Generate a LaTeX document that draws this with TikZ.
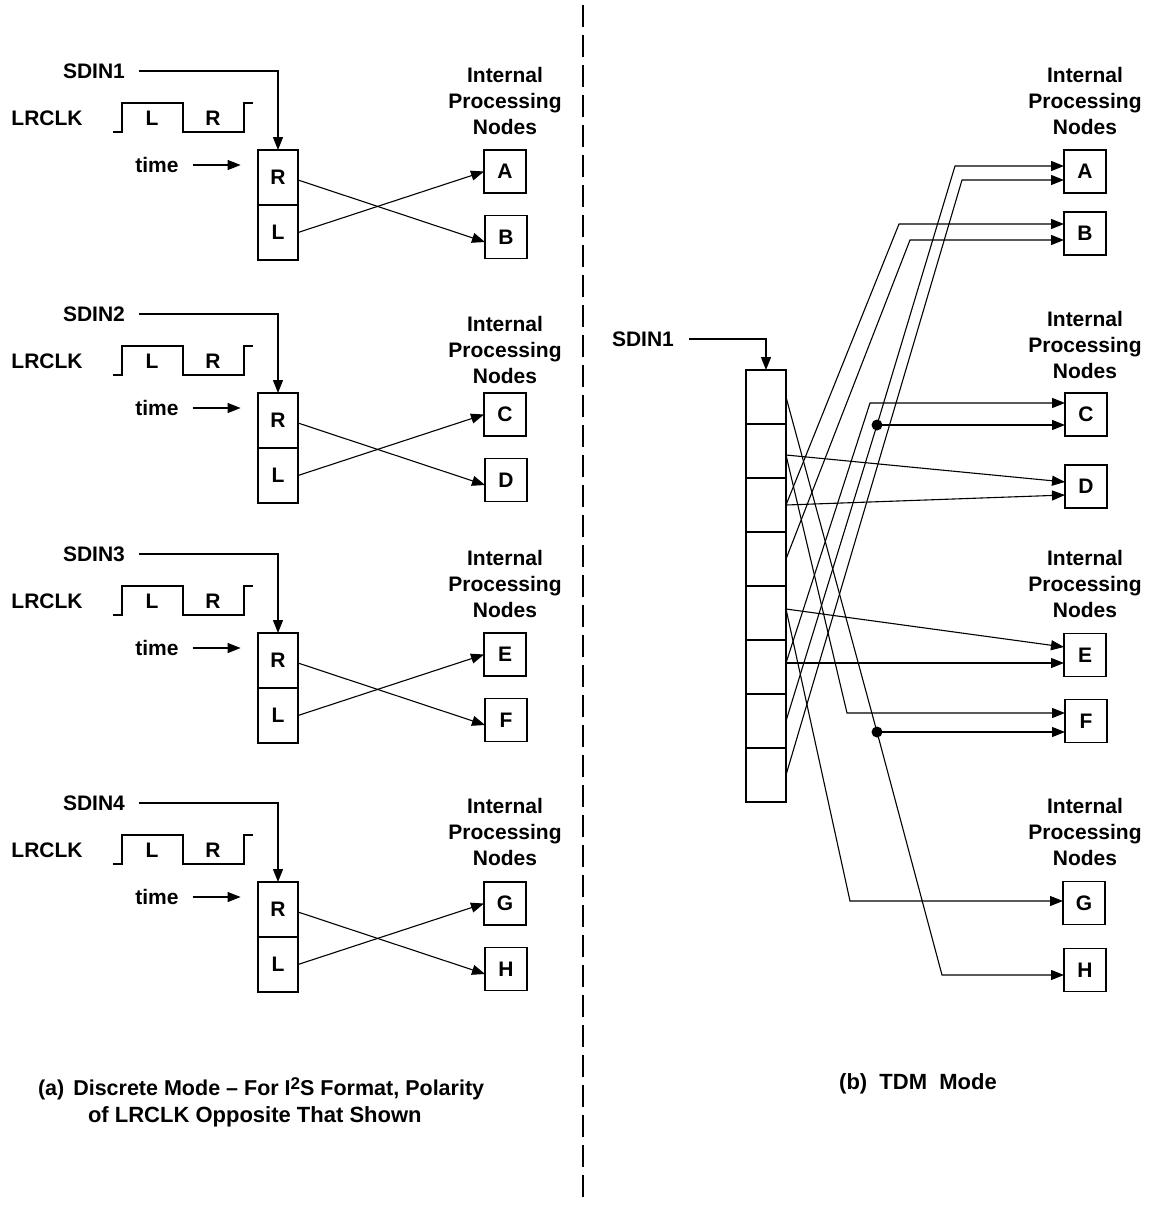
\documentclass[tikz,border=0pt]{standalone}
\usepackage{fontspec}
\setmainfont{Liberation Sans}
\usetikzlibrary{arrows.meta}
\tikzset{
 txt/.style={font=\fontsize{21}{26}\selectfont\bfseries, inner sep=0pt, outer sep=0pt},
 captxt/.style={font=\fontsize{22}{27}\selectfont\bfseries, inner sep=0pt, outer sep=0pt},
 box/.style={txt, draw, line width=1.1pt, minimum width=42pt, minimum height=43pt},
 cell/.style={txt, draw, line width=1.1pt, minimum width=40pt},
 wire/.style={line width=1.1pt},
 arr/.style={wire, -{Triangle[length=13pt,width=10pt]}},
 dot/.style={circle, fill, inner sep=0pt, minimum size=11pt},
 divider/.style={line width=1.1pt, dash pattern=on 22pt off 8pt},
}
\newcommand\discgroup[5]{%
 \node[txt] (sd#3) at (94,{71+#1}) {#2};
 \node[txt] (lr#3) at (47,{118+#1}) {LRCLK};
 \draw[wire] (113,{132+#1}) -- (122,{132+#1}) -- (122,{103+#1}) -- (183,{103+#1}) -- (183,{132+#1}) -- (244,{132+#1}) -- (244,{103+#1}) -- (253,{103+#1});
 \node[txt] (wl#3) at (152,{118+#1}) {L};
 \node[txt] (wr#3) at (213,{118+#1}) {R};
 \node[txt] (tm#3) at (157,{165+#1}) {time};
 \node[cell, minimum height=55pt] (cr#3) at (278,{177.5+#1}) {R};
 \node[cell, minimum height=55pt] (cl#3) at (278,{232.5+#1}) {L};
 \node[box] (bx#3) at (505,{171.5+#1}) {#3};
 \node[box] (bx#4) at (506,{237+#1}) {#4};
 \node[txt, align=center] (ip#3) at (505,#5) {Internal\\Processing\\Nodes};
 \draw[arr] ([xshift=14pt]sd#3.east) -| (cr#3.north);
 \draw[arr] ([xshift=14pt]tm#3.east) -- ++(48,0);
 \draw[arr] ([yshift=-2.5pt]cr#3.east) -- ([yshift=-5pt]bx#4.west);
 \draw[arr] (cl#3.east) -- (bx#3.west);
}
\begin{document}
\begin{tikzpicture}[x=1pt, y=-1pt]
\useasboundingbox[fill=white] (0,0) rectangle (1149,1205);
% divider
\draw[divider] (583,5) -- (583,1200);
% (a) discrete mode
\discgroup{0}{SDIN1}{A}{B}{101}
\discgroup{243}{SDIN2}{C}{D}{350}
\discgroup{483}{SDIN3}{E}{F}{584}
\discgroup{732}{SDIN4}{G}{H}{832}
\node[captxt, anchor=base west] (capa1) at (38,1095.5) {\fontsize{21.5}{26}\selectfont(a)\hspace{9pt}Discrete Mode – For I\raisebox{6pt}{\fontsize{17}{17}\selectfont 2}S Format, Polarity};
\node[captxt, anchor=base west] (capa2) at (88,1122.5) {of LRCLK Opposite That Shown};
% (b) TDM mode
\node[txt] (sdR) at (643,339) {SDIN1};
\foreach \i in {1,...,8} \node[cell, minimum height=54pt] (c\i) at (766,{397+54*(\i-1)}) {};
\draw[arr] ([xshift=15pt]sdR.east) -| (c1.north);
\node[txt, align=center] (ipR1) at (1085,101) {Internal\\Processing\\Nodes};
\node[txt, align=center] (ipR2) at (1085,345) {Internal\\Processing\\Nodes};
\node[txt, align=center] (ipR3) at (1085,584) {Internal\\Processing\\Nodes};
\node[txt, align=center] (ipR4) at (1085,832) {Internal\\Processing\\Nodes};
\node[box] (rA) at (1085,171.5) {A};
\node[box] (rB) at (1085,233.5) {B};
\node[box] (rC) at (1086,414.5) {C};
\node[box] (rD) at (1086,486.5) {D};
\node[box] (rE) at (1085,655) {E};
\node[box] (rF) at (1086,721) {F};
\node[box] (rG) at (1084,903) {G};
\node[box] (rH) at (1085,970) {H};
\node[dot] (dC) at (877,425) {};
\node[dot] (dF) at (877,732) {};
% slot 7 -> A, C (branch)
\draw[arr] (c7.east) -- (dC.center) -- (955,166) -- (rA.west |- 0,166);
\draw[arr] (dC.center) -- (rC.west |- 0,425);
% slot 8 -> A
\draw[arr] (c8.east) -- (962,180) -- (rA.west |- 0,180);
% slot 3 -> B, D
\draw[arr] (c3.east) -- (899,224) -- (rB.west |- 0,224);
\draw[arr] (c3.east) -- (rD.west |- 0,495);
% slot 4 -> B
\draw[arr] (c4.east) -- (910,240) -- (rB.west |- 0,240);
% slot 6 -> C, E
\draw[arr] ([yshift=4pt]c6.east) -- (870,403) -- (rC.west |- 0,403);
\draw[arr] ([yshift=4pt]c6.east) -- (rE.west |- 0,663);
% slot 2 -> D, F
\draw[arr] ([yshift=-4pt]c2.east) -- (rD.west |- 0,482);
\draw[arr] ([yshift=-4pt]c2.east) -- (847,713) -- (rF.west |- 0,713);
% slot 5 -> E, G
\draw[arr] ([yshift=4pt]c5.east) -- (rE.west |- 0,647);
\draw[arr] ([yshift=4pt]c5.east) -- (850,901) -- (rG.west |- 0,901);
% slot 1 -> H, F (branch)
\draw[arr] (c1.east) -- (dF.center) -- (942,975) -- (rH.west |- 0,975);
\draw[arr] (dF.center) -- (rF.west |- 0,732);
\node[captxt, anchor=base] (capb) at (918,1089.5) {(b)\ \ TDM\ \ Mode};
\end{tikzpicture}
\end{document}
